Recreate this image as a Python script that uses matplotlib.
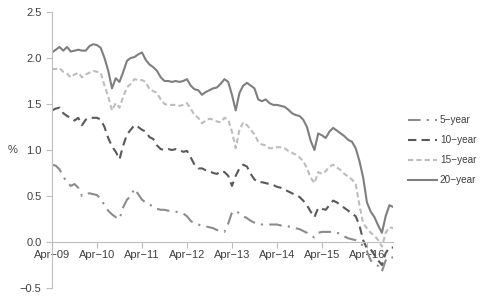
import matplotlib
matplotlib.use("Agg")
import matplotlib.pyplot as plt

# monthly yields (%), Apr-09 onwards
y5 = [0.84, 0.83, 0.79, 0.71, 0.65, 0.61, 0.63, 0.59, 0.50, 0.52, 0.53, 0.52,
      0.51, 0.47, 0.40, 0.34, 0.30, 0.27, 0.25, 0.38, 0.46, 0.50, 0.58, 0.52,
      0.46, 0.43, 0.41, 0.38, 0.36, 0.35, 0.35, 0.34, 0.34, 0.33, 0.32, 0.31,
      0.28, 0.23, 0.20, 0.19, 0.18, 0.17, 0.16, 0.15, 0.13, 0.12, 0.11, 0.20,
      0.32, 0.34, 0.31, 0.28, 0.26, 0.23, 0.21, 0.20, 0.19, 0.19, 0.19, 0.19,
      0.19, 0.18, 0.18, 0.17, 0.16, 0.15, 0.14, 0.12, 0.10, 0.07, 0.05, 0.10,
      0.11, 0.11, 0.11, 0.11, 0.10, 0.09, 0.06, 0.04, 0.03, 0.02, -0.01, -0.04,
      -0.10, -0.20, -0.24, -0.26, -0.32, -0.20, -0.16, -0.17]
y10 = [1.43, 1.45, 1.46, 1.40, 1.37, 1.35, 1.32, 1.35, 1.27, 1.33, 1.35, 1.35,
       1.35, 1.33, 1.25, 1.13, 1.04, 0.98, 0.90, 1.05, 1.17, 1.22, 1.27, 1.25,
       1.22, 1.20, 1.14, 1.12, 1.05, 1.01, 1.00, 1.01, 1.00, 1.01, 1.00, 0.98,
       0.99, 0.92, 0.84, 0.80, 0.80, 0.78, 0.77, 0.75, 0.74, 0.77, 0.76, 0.72,
       0.61, 0.72, 0.80, 0.84, 0.82, 0.74, 0.68, 0.65, 0.65, 0.64, 0.63, 0.62,
       0.60, 0.59, 0.57, 0.55, 0.53, 0.51, 0.49, 0.45, 0.40, 0.33, 0.27, 0.37,
       0.36, 0.35, 0.40, 0.45, 0.43, 0.40, 0.37, 0.34, 0.31, 0.28, 0.18, 0.02,
       -0.07, -0.08, -0.14, -0.20, -0.25, -0.12, -0.06, -0.06]
y15 = [1.88, 1.88, 1.89, 1.85, 1.83, 1.79, 1.82, 1.84, 1.79, 1.82, 1.84, 1.86,
       1.85, 1.84, 1.70, 1.58, 1.43, 1.51, 1.46, 1.58, 1.68, 1.72, 1.77, 1.76,
       1.76, 1.74, 1.66, 1.64, 1.62, 1.55, 1.50, 1.49, 1.49, 1.49, 1.48, 1.49,
       1.51, 1.45, 1.38, 1.35, 1.29, 1.32, 1.34, 1.33, 1.31, 1.30, 1.35, 1.33,
       1.20, 1.02, 1.22, 1.30, 1.27, 1.22, 1.17, 1.09, 1.06, 1.05, 1.02, 1.02,
       1.03, 1.03, 1.02, 0.99, 0.97, 0.95, 0.92, 0.88, 0.80, 0.70, 0.64, 0.76,
       0.74, 0.77, 0.82, 0.84, 0.81, 0.78, 0.74, 0.71, 0.68, 0.63, 0.40, 0.20,
       0.15, 0.10, 0.07, 0.02, -0.05, 0.10, 0.16, 0.15]
y20 = [2.06, 2.09, 2.12, 2.08, 2.12, 2.07, 2.08, 2.09, 2.08, 2.08, 2.13, 2.15,
       2.14, 2.11, 2.00, 1.86, 1.67, 1.78, 1.74, 1.85, 1.97, 2.00, 2.01, 2.04,
       2.06, 1.98, 1.93, 1.90, 1.86, 1.79, 1.75, 1.75, 1.74, 1.75, 1.74, 1.75,
       1.77, 1.70, 1.66, 1.65, 1.60, 1.63, 1.65, 1.67, 1.68, 1.72, 1.77, 1.74,
       1.60, 1.43, 1.62, 1.70, 1.73, 1.70, 1.67, 1.55, 1.53, 1.55, 1.51, 1.49,
       1.49, 1.48, 1.47, 1.44, 1.40, 1.38, 1.37, 1.33, 1.25, 1.10, 1.00, 1.18,
       1.16, 1.13, 1.20, 1.24, 1.21, 1.18, 1.15, 1.11, 1.09, 1.02, 0.88, 0.70,
       0.43, 0.33, 0.27, 0.18, 0.10, 0.28, 0.40, 0.38]
tick_labels = ["Apr\u221209", "Apr\u221210", "Apr\u221211", "Apr\u221212",
               "Apr\u221213", "Apr\u221214", "Apr\u221215", "Apr\u221216"]
y_ticks = [-0.5, 0.0, 0.5, 1.0, 1.5, 2.0, 2.5]

plt.rcParams['font.family'] = ['Liberation Sans', 'DejaVu Sans']
fig = plt.figure(figsize=(4.86, 3.0), dpi=100)
ax = fig.add_axes([0.107, 0.04, 0.702, 0.92])

x = list(range(len(y20)))
ax.plot(x, y5, color="#8c8c8c", lw=1.5, ls=(0, (6, 3, 1, 3)), label="5\u2212year")
ax.plot(x, y10, color="#595959", lw=1.5, ls=(0, (4, 2.5)), label="10\u2212year")
ax.plot(x, y15, color="#bdbdbd", lw=1.5, ls=(0, (2.5, 1.5)), label="15\u2212year")
ax.plot(x, y20, color="#7f7f7f", lw=1.5, label="20\u2212year")

ax.set_xlim(0, 91)
ax.set_ylim(-0.5, 2.5)
ax.set_yticks(y_ticks)
ax.set_yticklabels([f"{v:.1f}".replace("-", "\u2212") for v in y_ticks])
ax.set_xticks([12 * i for i in range(len(tick_labels))])
ax.set_xticklabels(tick_labels)

for s in ["top", "right"]:
    ax.spines[s].set_visible(False)
ax.spines["left"].set_color("#bfbfbf")
ax.spines["bottom"].set_color("#bfbfbf")
ax.spines["bottom"].set_position(("data", 0))
ax.tick_params(axis="both", colors="#bfbfbf", labelcolor="#404040",
               labelsize=8, length=4, direction="out")
ax.tick_params(axis="x", pad=2)

fig.text(0.016, 0.5, "%", fontsize=8, color="#404040", va="center")

ax.legend(loc="center left", bbox_to_anchor=(0.826, 0.5), bbox_transform=fig.transFigure,
          frameon=False, fontsize=7.2, handlelength=2.9, handletextpad=0.25,
          labelspacing=1.0, borderpad=0.2, labelcolor="#404040")

fig.savefig("out.png", dpi=100)
